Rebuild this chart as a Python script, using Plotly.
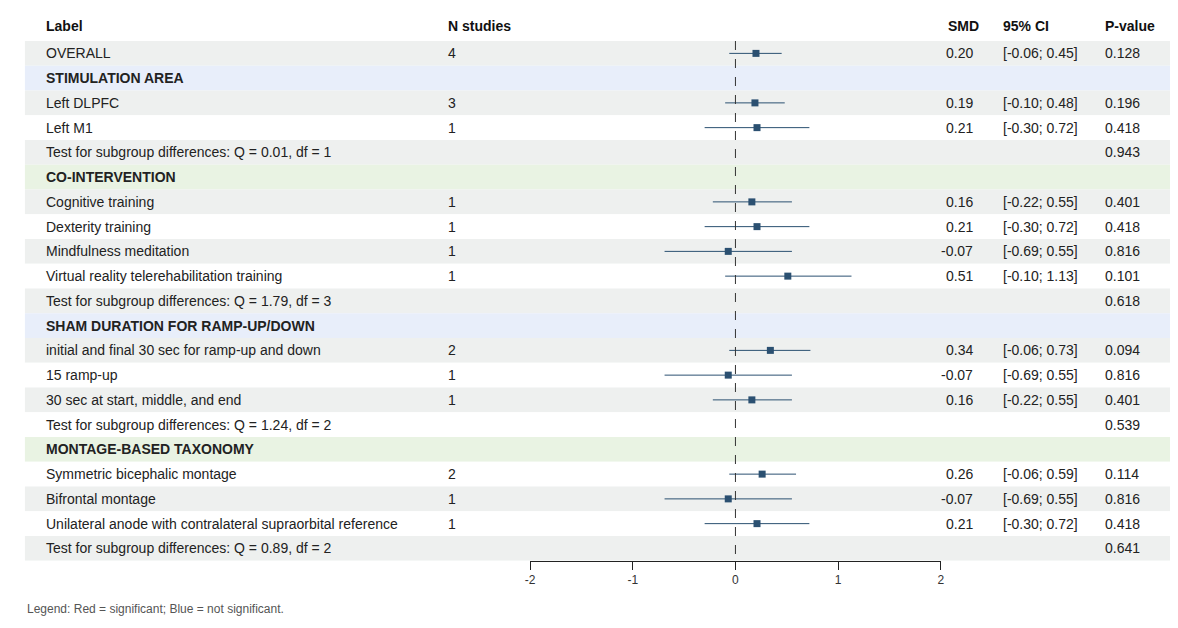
import plotly.graph_objects as go

labels = ["OVERALL","STIMULATION AREA","Left DLPFC","Left M1","Test for subgroup differences: Q = 0.01, df = 1",
          "CO-INTERVENTION","Cognitive training","Dexterity training","Mindfulness meditation",
          "Virtual reality telerehabilitation training","Test for subgroup differences: Q = 1.79, df = 3",
          "SHAM DURATION FOR RAMP-UP/DOWN","initial and final 30 sec for ramp-up and down","15 ramp-up",
          "30 sec at start, middle, and end","Test for subgroup differences: Q = 1.24, df = 2",
          "MONTAGE-BASED TAXONOMY","Symmetric bicephalic montage","Bifrontal montage",
          "Unilateral anode with contralateral supraorbital reference","Test for subgroup differences: Q = 0.89, df = 2"]
kinds = ["o","h1","r","r","t","h2","r","r","r","r","t","h1","r","r","r","t","h2","r","r","r","t"]
n_studies = ["4","","3","1","","","1","1","1","1","","","2","1","1","","","2","1","1",""]
smd = [0.20,None,0.19,0.21,None,None,0.16,0.21,-0.07,0.51,None,None,0.34,-0.07,0.16,None,None,0.26,-0.07,0.21,None]
lo = [-0.06,None,-0.10,-0.30,None,None,-0.22,-0.30,-0.69,-0.10,None,None,-0.06,-0.69,-0.22,None,None,-0.06,-0.69,-0.30,None]
hi = [0.45,None,0.48,0.72,None,None,0.55,0.72,0.55,1.13,None,None,0.73,0.55,0.55,None,None,0.59,0.55,0.72,None]
pval = ["0.128","","0.196","0.418","0.943","","0.401","0.418","0.816","0.101","0.618","","0.094","0.816","0.401","0.539","","0.114","0.816","0.418","0.641"]
ticks = [-2,-1,0,1,2]

W, H = 1178, 628
top, rh = 33, 24.75
axis_y = top + rh*len(labels)
fig = go.Figure()
shapes, ann = [], []
font = dict(family="Liberation Sans, Arial", size=14, color="#222")
bold = dict(family="Liberation Sans, Arial", size=14, color="#111")
def px(x): return x/W
stripe = True
for i, k in enumerate(labels):
    y0 = top + rh*i; yc = y0 + rh/2
    kd = kinds[i]
    if kd == "h1": col = "#e8eefa"
    elif kd == "h2": col = "#e9f3e3"
    else:
        col = "#eef0ef" if i % 2 == 0 else "#ffffff"
    shapes.append(dict(type="rect", xref="paper", yref="y", x0=px(12), x1=px(1166), y0=y0, y1=y0+rh,
                       fillcolor=col, line_width=0, layer="below"))
    isb = kd in ("h1","h2")
    ann.append(dict(x=px(31), y=yc, xref="paper", yref="y", text=("<b>%s</b>" % k) if isb else k,
                    showarrow=False, xanchor="left", font=font))
    if n_studies[i]:
        ann.append(dict(x=px(436), y=yc, xref="paper", yref="y", text=n_studies[i], showarrow=False, xanchor="left", font=font))
    if smd[i] is not None:
        ann.append(dict(x=px(969), y=yc, xref="paper", yref="y", text="%.2f" % smd[i], showarrow=False, xanchor="right", font=font))
        ann.append(dict(x=px(996), y=yc, xref="paper", yref="y", text="[%.2f; %.2f]" % (lo[i], hi[i]), showarrow=False, xanchor="left", font=font))
    if pval[i]:
        ann.append(dict(x=px(1098), y=yc, xref="paper", yref="y", text=pval[i], showarrow=False, xanchor="left", font=font))

for t, x, anc in [("Label",31,"left"),("N studies",436,"left"),("SMD",975,"right"),("95% CI",996,"left"),("P-value",1098,"left")]:
    ann.append(dict(x=px(x), y=18, xref="paper", yref="y", text="<b>%s</b>" % t, showarrow=False, xanchor=anc, font=bold))
ann.append(dict(x=px(12), y=1-610/H, xref="paper", yref="paper", text="Legend: Red = significant; Blue = not significant.",
                showarrow=False, xanchor="left", font=dict(family="Liberation Sans, Arial", size=12, color="#555")))

shapes.append(dict(type="line", xref="x", yref="y", x0=0, x1=0, y0=top, y1=axis_y, line=dict(color="#333", width=1, dash="dash")))

xs, ys, ep, em = [], [], [], []
for i in range(len(labels)):
    if smd[i] is not None:
        xs.append(smd[i]); ys.append(top + rh*i + rh/2); ep.append(hi[i]-smd[i]); em.append(smd[i]-lo[i])
fig.add_trace(go.Scatter(x=xs, y=ys, mode="markers", marker=dict(symbol="square", size=7, color="#2b5071"),
                         error_x=dict(type="data", array=ep, arrayminus=em, color="#2b5071", thickness=1, width=0),
                         showlegend=False, hoverinfo="skip", cliponaxis=False))
fig.update_layout(width=W, height=H, margin=dict(l=0, r=0, t=0, b=0), plot_bgcolor="rgba(0,0,0,0)", paper_bgcolor="white",
                  shapes=shapes, annotations=ann,
                  xaxis=dict(domain=[521/W, 935/W], range=[-2,2], tickvals=ticks, ticktext=[str(t) for t in ticks],
                             showgrid=False, zeroline=False, showline=True, linecolor="#222", ticks="outside", ticklen=8,
                             tickcolor="#222", tickfont=dict(family="Liberation Sans, Arial", size=12, color="#333")),
                  yaxis=dict(domain=[1-axis_y/H, 1], range=[axis_y, 0], visible=False))
fig.write_html("out.html")
